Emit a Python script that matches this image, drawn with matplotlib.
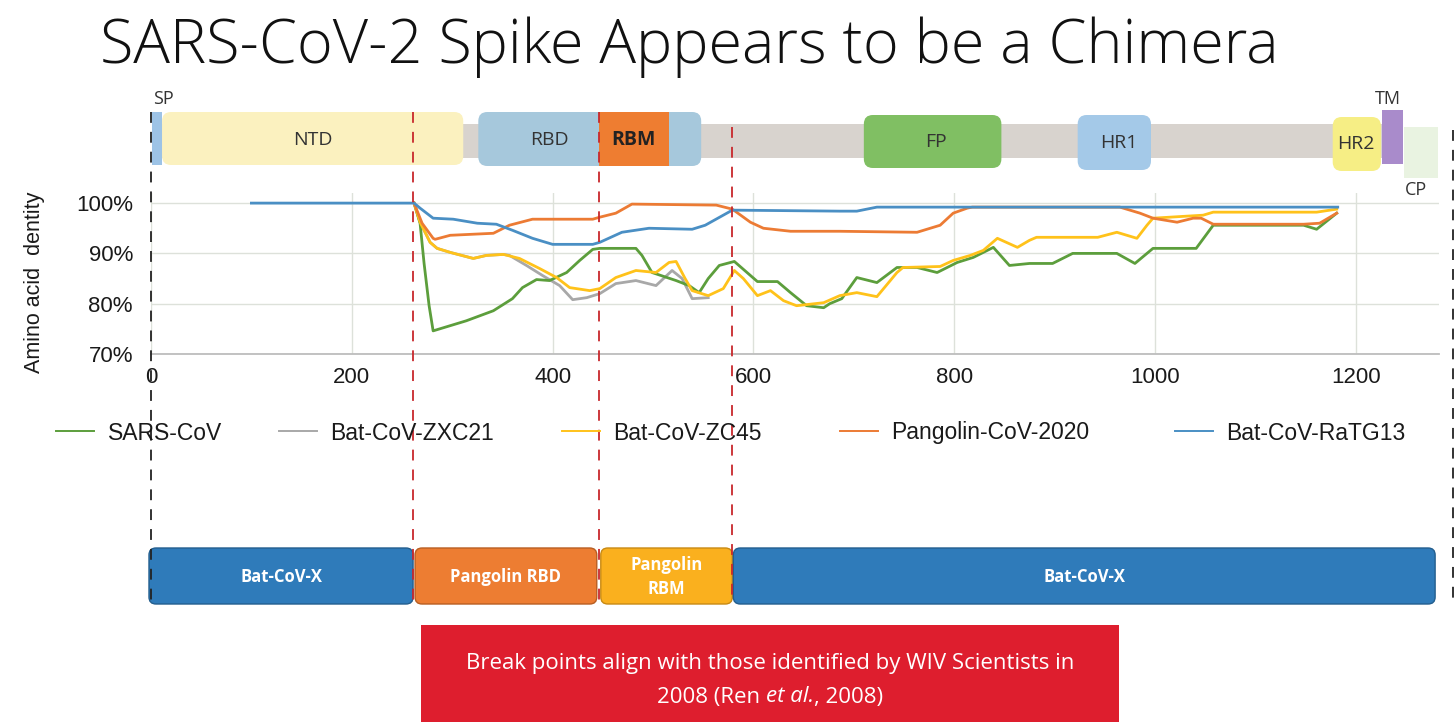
import matplotlib
matplotlib.use("Agg")
import matplotlib.pyplot as plt
from matplotlib.patches import FancyBboxPatch, Rectangle

# --- data (residue position, % identity) ---
series_names = ["SARS-CoV", "Bat-CoV-ZXC21", "Bat-CoV-ZC45", "Pangolin-CoV-2020", "Bat-CoV-RaTG13"]

sars_x = [262, 268, 272, 277, 281, 314, 341, 360, 370, 384, 397, 414, 427, 440, 447, 483, 489, 499, 523,
          536, 546, 555, 566, 581, 604, 624, 637, 653, 670, 676, 688, 703, 723, 743, 763, 783, 803, 819,
          839, 855, 875, 898, 918, 962, 980, 998, 1041, 1058, 1148, 1161, 1181]
sars_y = [100, 96, 88, 79.6, 74.6, 76.6, 78.6, 81, 83.2, 84.8, 84.6, 86.2, 88.6, 90.8, 91, 91, 89.6, 86.2, 84.6,
          83.6, 82.2, 85, 87.6, 88.4, 84.4, 84.4, 82.2, 79.6, 79.2, 80, 81, 85.2, 84.2, 87.2, 87.2, 86.2, 88.2, 89.2,
          91.2, 87.6, 88, 88, 90, 90, 88, 91, 91, 95.6, 95.6, 94.8, 98]

zxc21_x = [262, 268, 278, 285, 298, 321, 334, 351, 357, 374, 390, 407, 420, 434, 447, 463, 483, 503, 519, 529,
           539, 555]
zxc21_y = [100, 96.2, 92.2, 91, 90.2, 89, 89.6, 89.8, 89.6, 87.6, 85.6, 83.6, 80.8, 81.2, 82, 84, 84.6, 83.6,
           86.6, 85, 81, 81.2]

zc45_x = [262, 268, 278, 285, 298, 321, 334, 351, 367, 387, 404, 417, 437, 447, 463, 483, 503, 516, 523, 532,
          539, 555, 570, 581, 590, 604, 617, 630, 643, 670, 686, 703, 723, 743, 749, 786, 799, 816, 829, 843,
          863, 875, 882, 943, 962, 982, 992, 998, 1048, 1058, 1161, 1181]
zc45_y = [100, 96.2, 92.2, 91, 90.2, 89, 89.6, 89.8, 89, 87, 85.2, 83.2, 82.6, 83, 85.2, 86.6, 86.2, 88.2, 88.4, 85,
          82.6, 81.6, 83, 86.6, 85, 81.6, 82.6, 80.6, 79.6, 80.2, 81.6, 82.2, 81.4, 86.2, 87.2, 87.4, 88.6, 89.6,
          90.6, 93, 91.2, 92.6, 93.2, 93.2, 94.2, 93, 95.6, 97, 97.6, 98.2, 98.2, 98.8]

pangolin_x = [262, 270, 281, 283, 298, 341, 357, 380, 440, 447, 463, 479, 563, 579, 597, 610, 637, 686, 763,
              786, 799, 813, 818, 965, 985, 998, 1022, 1038, 1046, 1058, 1148, 1164, 1181]
pangolin_y = [100, 96, 93, 92.8, 93.6, 94, 95.6, 96.8, 96.8, 97.2, 98, 99.8, 99.6, 98.8, 96.2, 95, 94.4, 94.4,
              94.2, 95.6, 98, 99, 99.2, 99.2, 98, 97, 96.2, 97, 97, 95.8, 95.8, 96, 98]

ratg13_x = [100, 262, 268, 281, 301, 325, 344, 360, 380, 400, 440, 447, 469, 496, 539, 552, 579, 686, 703,
            723, 1182]
ratg13_y = [100, 100, 99, 97, 96.8, 96, 95.8, 94.6, 93, 91.8, 91.8, 92.2, 94.2, 95, 94.8, 95.6, 98.6, 98.4,
            98.4, 99.2, 99.2]

# spike domains (start, end residue)
domain_names = ["SP", "NTD", "RBD", "RBM", "FP", "HR1", "HR2", "TM", "CP"]
domain_start = [1, 11, 326, 446, 710, 923, 1177, 1226, 1248]
domain_end = [11, 311, 548, 516, 847, 996, 1225, 1247, 1282]

# recombination break points and origin segments
break_points = [261, 446, 579]
segment_labels = ["Bat-CoV-X", "Pangolin RBD", "Pangolin\nRBM", "Bat-CoV-X"]
segment_start = [-2, 263, 448, 580]
segment_end = [261, 444, 579, 1279]

W, H = 1456, 725
X0, SCALE = 151, 1.004   # pixel of residue 0, pixels per residue
XMAX = 1283
OPEN = ["Open Sans", "DejaVu Sans"]

plt.rcParams["font.family"] = ["Liberation Sans", "DejaVu Sans"]

fig = plt.figure(figsize=(W / 100, H / 100), dpi=100)
fig.patch.set_facecolor("white")

# line chart
ax = fig.add_axes([X0 / W, (H - 354) / H, SCALE * XMAX / W, 32 * 5.03 / H])
colors = ["#5C9E3C", "#A8A8A8", "#FFC21A", "#EC7B34", "#4A8FC4"]
xs = [sars_x, zxc21_x, zc45_x, pangolin_x, ratg13_x]
ys = [sars_y, zxc21_y, zc45_y, pangolin_y, ratg13_y]
zorders = [3, 2, 4, 5, 6]
lines = []
for name, c, x, y, z in zip(series_names, colors, xs, ys, zorders):
    ln, = ax.plot(x, y, color=c, lw=2.0, label=name, zorder=z, solid_joinstyle="round")
    lines.append(ln)

ax.set_xlim(0, XMAX)
ax.set_ylim(70, 102)
ax.set_yticks([70, 80, 90, 100])
ax.set_yticklabels(["70%", "80%", "90%", "100%"])
ax.set_xticks(range(0, 1201, 200))
ax.grid(color="#DDE1DA", lw=1)
for s in ["left", "right", "top"]:
    ax.spines[s].set_visible(False)
ax.spines["bottom"].set_color("#BDBDBD")
ax.spines["bottom"].set_linewidth(1.3)
ax.tick_params(length=0, labelsize=16, colors="#1a1a1a")
ax.tick_params(axis="y", pad=13)
ax.tick_params(axis="x", pad=9)
ax.patch.set_alpha(0)

fig.text(35 / W, (H - 282) / H, "Amino acid  dentity", rotation=90, fontsize=15.5,
         ha="center", va="center", color="#1a1a1a")

# legend, one entry per anchor as on the slide
leg_x = [56, 279, 562, 840, 1175]
for ln, lx in zip(lines, leg_x):
    leg = fig.legend(handles=[ln], loc="center left", bbox_to_anchor=(lx / W, (H - 433) / H),
                     frameon=False, fontsize=16.5, handlelength=1.65, handletextpad=0.6,
                     borderpad=0, borderaxespad=0)
    leg.get_lines()[0].set_linewidth(1.4)
    leg.get_texts()[0].set_color("#1a1a1a")

# overlay in residue (x) / pixel (y) units
ov = fig.add_axes([0, 0, 1, 1])
ov.set_xlim(-X0 / SCALE, (W - X0) / SCALE)
ov.set_ylim(H, 0)
ov.axis("off")
ov.patch.set_alpha(0)

# spike backbone and domains
ov.add_patch(Rectangle((11, 124), 1236, 34, color="#D8D3CE", lw=0))
dom_colors = ["#9DC3E6", "#FBF1BF", "#A6C8DC", "#EE7D31", "#80BF63", "#A4C9E8", "#F6EE85", "#A98BCB", "#E9F3E1"]
dom_y = [(112, 165), (112, 165), (112, 166), (112, 166), (115, 168), (115, 170), (117, 171), (110, 164), (127, 178)]
rounded = [False, True, True, False, True, True, True, False, False]
for s, e, c, (y0, y1), r in zip(domain_start, domain_end, dom_colors, dom_y, rounded):
    if r:
        ov.add_patch(FancyBboxPatch((s, y0), e - s, y1 - y0, boxstyle="round,pad=0,rounding_size=9",
                                    fc=c, ec="none"))
    else:
        ov.add_patch(Rectangle((s, y0), e - s, y1 - y0, fc=c, ec="none"))

lab_kw = dict(fontsize=14, color="#333333", family=OPEN, ha="center", va="center")
ov.text(2, 99, "SP", **{**lab_kw, "ha": "left", "fontsize": 13})
ov.text(161, 140, "NTD", **lab_kw)
ov.text(397, 140, "RBD", **lab_kw)
ov.text(481, 140, "RBM", **{**lab_kw, "weight": "bold", "color": "#222222"})
ov.text(782, 142, "FP", **lab_kw)
ov.text(964, 143, "HR1", **lab_kw)
ov.text(1200, 144, "HR2", **lab_kw)
ov.text(1232, 99, "TM", **{**lab_kw, "fontsize": 13})
ov.text(1260, 190, "CP", **{**lab_kw, "fontsize": 13})

# dashed guide lines
ov.plot([0, 0], [112, 605], color="#222222", lw=1.3, ls=(0, (6, 5)), zorder=10)
ov.plot([1297, 1297], [130, 605], color="#222222", lw=1.3, ls=(0, (6, 5)), zorder=10)
for bp, top in zip(break_points, [112, 112, 127]):
    ov.plot([bp, bp], [top, 600], color="#C8282C", lw=1.3, ls=(0, (6, 5)), zorder=10)

# origin segments
seg_colors = ["#2F7BBA", "#ED7D32", "#FAB01E", "#2F7BBA"]
seg_edges = ["#235E8E", "#B85E22", "#C88A14", "#235E8E"]
for s, e, lab, c, ec in zip(segment_start, segment_end, segment_labels, seg_colors, seg_edges):
    ov.add_patch(FancyBboxPatch((s, 548), e - s, 56, boxstyle="round,pad=0,rounding_size=7",
                                fc=c, ec=ec, lw=1, zorder=5))
    ov.text((s + e) / 2, 577, lab, fontsize=12, color="white", weight="bold", ha="center", va="center",
            family=OPEN, linespacing=1.5, zorder=11)

# title
fig.text(100 / W, (H - 63) / H, "SARS-CoV-2 Spike Appears to be a Chimera", fontsize=44,
         family=OPEN, weight="light", ha="left", va="baseline", color="#111111")

# red note box
fig.patches.append(Rectangle((421 / W, 0.004), 698 / W, (722 - 625) / H, transform=fig.transFigure,
                             fc="#DE1E2E", ec="none"))
note_kw = dict(fontsize=16, color="white", family=OPEN, va="center")
fig.text(770 / W, (H - 663) / H, "Break points align with those identified by WIV Scientists in",
         ha="center", **note_kw)

# second line built from pieces so that "et al." can be italic
renderer = fig.canvas.get_renderer()
pieces = [("2008 (Ren ", "normal"), ("et al.", "italic"), (", 2008)", "normal")]
widths = []
for txt, style in pieces:
    t = fig.text(0, 0, txt, style=style, **note_kw)
    widths.append(t.get_window_extent(renderer).width)
    t.remove()
xpos = 770 - sum(widths) / 2
for (txt, style), w in zip(pieces, widths):
    fig.text(xpos / W, (H - 697) / H, txt, style=style, ha="left", **note_kw)
    xpos += w

fig.savefig("out.png", dpi=100)
